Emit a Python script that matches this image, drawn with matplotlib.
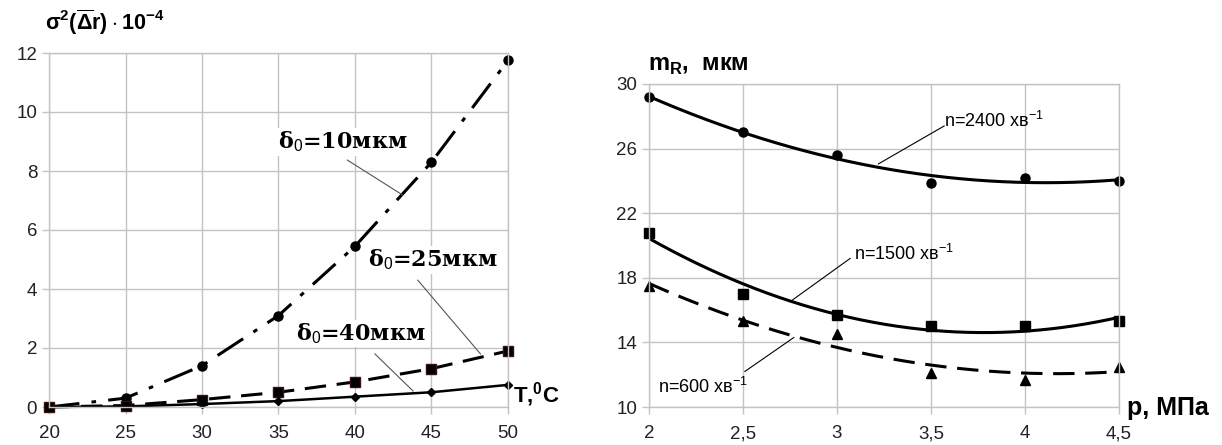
import numpy as np
import matplotlib
matplotlib.use("Agg")
import matplotlib.pyplot as plt

# ---- Left chart data ----
T = [20, 25, 30, 35, 40, 45, 50]
s10 = [0.0, 0.3, 1.4, 3.1, 5.45, 8.3, 11.75]
s25 = [0.0, 0.05, 0.25, 0.5, 0.85, 1.3, 1.9]
s40 = [0.0, 0.02, 0.1, 0.2, 0.35, 0.5, 0.75]
left_xticks = [20, 25, 30, 35, 40, 45, 50]
left_yticks = [0, 2, 4, 6, 8, 10, 12]

# ---- Right chart data ----
p = [2.0, 2.5, 3.0, 3.5, 4.0, 4.5]
m2400 = [29.2, 27.0, 25.6, 23.9, 24.2, 24.0]
m1500 = [20.8, 17.0, 15.7, 15.0, 15.0, 15.3]
m600 = [17.5, 15.3, 14.5, 12.1, 11.7, 12.5]
right_xticks = [2.0, 2.5, 3.0, 3.5, 4.0, 4.5]
right_xticklabels = ["2", "2,5", "3", "3,5", "4", "4,5"]
right_yticks = [10, 14, 18, 22, 26, 30]

plt.rcParams['font.family'] = ['Liberation Sans', 'DejaVu Sans']
plt.rcParams['mathtext.fontset'] = 'custom'
plt.rcParams['mathtext.rm'] = 'Liberation Sans'
plt.rcParams['mathtext.bf'] = 'Liberation Sans:bold'

W, H = 1222, 445
fig = plt.figure(figsize=(W/100, H/100), dpi=100)
GRID = '#c3c3c3'

def style(ax):
    ax.grid(True, color=GRID, lw=1.0)
    ax.set_axisbelow(True)
    for s in ax.spines.values():
        s.set_color(GRID)
        s.set_linewidth(1.0)
    ax.tick_params(colors=GRID, labelcolor='#222222', length=5, width=1.0,
                   labelsize=13.5)

# Left axes
axL = fig.add_axes([49/W, 1-407/H, 459/W, 354/H])
style(axL)
axL.set_xlim(20, 50)
axL.set_ylim(0, 12)
axL.set_xticks(left_xticks)
axL.set_yticks(left_yticks)
axL.tick_params(axis='x', pad=8)

axL.plot(T, s10, color='black', lw=2.2, dashes=(10, 4, 1.5, 4), marker='o', ms=6.5,
         clip_on=False)
axL.plot(T, s25, color='black', lw=2.2, dashes=(7, 3.5), marker='s', ms=7,
         mfc='black', mec='#3a1010', clip_on=False)
axL.plot(T, s40, color='black', lw=1.8, marker='D', ms=4, clip_on=False)

tprops = dict(family='DejaVu Serif', fontweight='bold', fontsize=16,
              ha='center', va='center',
              bbox=dict(facecolor='white', edgecolor='none', pad=1))
axL.text(39.2, 8.98, r'δ$_0$=10мкм', **tprops)
axL.plot([39.5, 43.1], [8.37, 7.19], color='#555555', lw=0.8)
axL.text(45.1, 4.98, r'δ$_0$=25мкм', **tprops)
axL.plot([44.1, 48.2], [4.3, 1.8], color='#555555', lw=0.8)
axL.text(40.4, 2.5, r'δ$_0$=40мкм', **tprops)
axL.plot([41.3, 43.8], [1.8, 0.54], color='#555555', lw=0.8)

fig.text(45/W, 1-22/H, r'$\mathbf{\sigma^2(\overline{\Delta}r)\cdot10^{-4}}$',
         fontsize=15.5, fontweight='bold', ha='left', va='center')
fig.text(513/W, 1-395/H, r'T,$^\mathbf{0}$C', fontsize=16, fontweight='bold',
         ha='left', va='center')

# Right axes
axR = fig.add_axes([649/W, 1-407/H, 470/W, 323/H])
style(axR)
axR.set_xlim(2, 4.5)
axR.set_ylim(10, 30)
axR.set_xticks(right_xticks)
axR.set_xticklabels(right_xticklabels)
axR.set_yticks(right_yticks)
axR.tick_params(axis='x', pad=8)

xs = np.linspace(2, 4.5, 200)
for ys, mk, ms, ls in [(m2400, 'o', 6.5, '-'), (m1500, 's', 7, '-'), (m600, '^', 7, '--')]:
    c = np.polyfit(p, ys, 2)
    if ls == '--':
        axR.plot(xs, np.polyval(c, xs), color='black', lw=2.2, dashes=(7, 3.5))
    else:
        axR.plot(xs, np.polyval(c, xs), color='black', lw=2.2)
    axR.plot(p, ys, linestyle='none', marker=mk, ms=ms, color='black', clip_on=False)

lprops = dict(fontsize=13, ha='left', va='center')
axR.text(3.57, 27.7, 'n=2400 хв$^{-1}$', **lprops)
axR.plot([3.57, 3.22], [27.4, 25.05], color='black', lw=0.8)
axR.text(3.09, 19.5, 'n=1500 хв$^{-1}$', **lprops)
axR.plot([3.07, 2.76], [19.2, 16.6], color='black', lw=0.8)
axR.text(2.05, 11.24, 'n=600 хв$^{-1}$', **lprops)
axR.plot([2.51, 2.77], [12.2, 14.3], color='black', lw=0.8)

fig.text(648/W, 1-65/H, r'm$_\mathbf{R}$,  мкм', fontsize=17, fontweight='bold',
         ha='left', va='center')
fig.text(1127/W, 1-408/H, 'p, МПа', fontsize=18, fontweight='bold',
         ha='left', va='center')

fig.savefig('out.png', dpi=100)
